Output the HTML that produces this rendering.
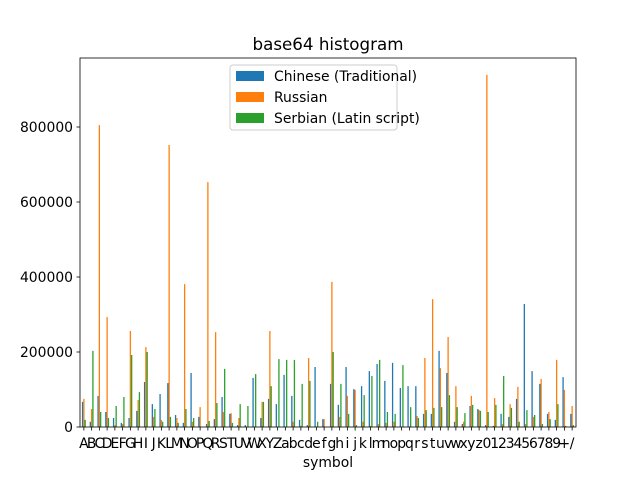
<!DOCTYPE html>
<html><head><meta charset="utf-8"><style>
body{margin:0;background:#fff;}
svg text{font-family:"DejaVu Sans","Liberation Sans",sans-serif;}
</style></head><body>
<svg id="chart" width="640" height="480" xmlns="http://www.w3.org/2000/svg">
<rect width="640" height="480" fill="#fff"/>
<text x="328" y="50" font-size="16.7" text-anchor="middle">base64 histogram</text>
<g id="bars"></g>
<g id="axes"></g>
<rect x="80" y="58" width="496" height="369" fill="none" stroke="#000" stroke-width="0.8"/>
<text x="328" y="467" font-size="13.9" text-anchor="middle">symbol</text>
<g>
<rect x="230" y="65" width="167" height="65" rx="3" fill="#fff" fill-opacity="0.8" stroke="#ccc"/>
<rect x="236" y="71" width="28" height="10" fill="#1f77b4"/>
<text x="274" y="81" font-size="13.9">Chinese (Traditional)</text>
<rect x="236" y="92" width="28" height="10" fill="#ff7f0e"/>
<text x="274" y="102" font-size="13.9">Russian</text>
<rect x="236" y="113" width="28" height="10" fill="#2ca02c"/>
<text x="274" y="123" font-size="13.9">Serbian (Latin script)</text>
</g>
</svg>
<script>
const categories = "ABCDEFGHIJKLMNOPQRSTUVWXYZabcdefghijklmnopqrstuvwxyz0123456789+/".split("");
const chinese = [67,14,83,40,24,11,24,43,120,61,88,117,32,11,144,27,8,21,80,35,5,5,131,24,75,61,139,83,19,5,160,21,115,59,160,101,109,149,168,123,171,104,109,109,35,35,203,144,14,8,56,48,5,3,35,27,75,328,149,115,35,19,133,35].map(v=>v*1000);
const russian = [75,48,805,293,5,8,256,72,213,27,19,752,24,381,14,53,653,253,40,37,24,0,0,67,256,0,0,14,3,184,0,21,387,27,83,99,14,3,8,11,14,0,0,29,184,341,157,240,109,14,83,45,939,77,8,61,107,8,27,128,40,179,99,56].map(v=>v*1000);
const serbian = [19,203,40,24,56,80,192,93,200,48,14,27,11,48,24,0,16,64,155,11,61,56,141,67,109,181,179,179,115,123,14,0,200,115,35,5,85,136,179,40,35,165,53,24,45,51,53,85,53,37,59,43,40,59,136,51,14,45,32,8,21,61,3,5].map(v=>v*1000);
const yTicks = [0,200000,400000,600000,800000];
const seriesList = [["chinese",chinese,"#1f77b4"],["russian",russian,"#ff7f0e"],["serbian",serbian,"#2ca02c"]];
const NS="http://www.w3.org/2000/svg";
const X0=80,X1=576,Y0=427,Y1=58,YMAX=800000/300*369;
const step=(X1-X0)/categories.length;
function xc(i){return X0+step*(i+0.5);}
function ys(v){return Y0-(v/YMAX)*(Y0-Y1);}
const bars=document.getElementById("bars"),axes=document.getElementById("axes");
const bw=step*0.5/3;
seriesList.forEach((s,si)=>{
  s[1].forEach((v,i)=>{
    const r=document.createElementNS(NS,"rect");
    r.setAttribute("x",xc(i)-step*0.25+si*bw);
    r.setAttribute("y",ys(v));
    r.setAttribute("width",bw);
    r.setAttribute("height",Y0-ys(v));
    r.setAttribute("fill",s[2]);
    
    
    bars.appendChild(r);
  });
});
categories.forEach((c,i)=>{
  const t=document.createElementNS(NS,"line");
  t.setAttribute("x1",xc(i));t.setAttribute("x2",xc(i));
  t.setAttribute("y1",Y0);t.setAttribute("y2",Y0+3.5);
  t.setAttribute("stroke","#000");t.setAttribute("stroke-width","0.8");
  
  
  axes.appendChild(t);
  const l=document.createElementNS(NS,"text");
  l.setAttribute("x",xc(i));l.setAttribute("y",448);
  l.setAttribute("font-size","13.9");l.setAttribute("text-anchor","middle");
  l.textContent=c;
  
  
  axes.appendChild(l);
});
yTicks.forEach(v=>{
  const t=document.createElementNS(NS,"line");
  t.setAttribute("x1",X0-3.5);t.setAttribute("x2",X0);
  t.setAttribute("y1",ys(v));t.setAttribute("y2",ys(v));
  t.setAttribute("stroke","#000");t.setAttribute("stroke-width","0.8");
  
  
  axes.appendChild(t);
  const l=document.createElementNS(NS,"text");
  l.setAttribute("x",X0-7);l.setAttribute("y",ys(v)+5);
  l.setAttribute("font-size","13.9");l.setAttribute("text-anchor","end");
  l.textContent=String(v);
  
  
  axes.appendChild(l);
});
</script>
</body></html>
